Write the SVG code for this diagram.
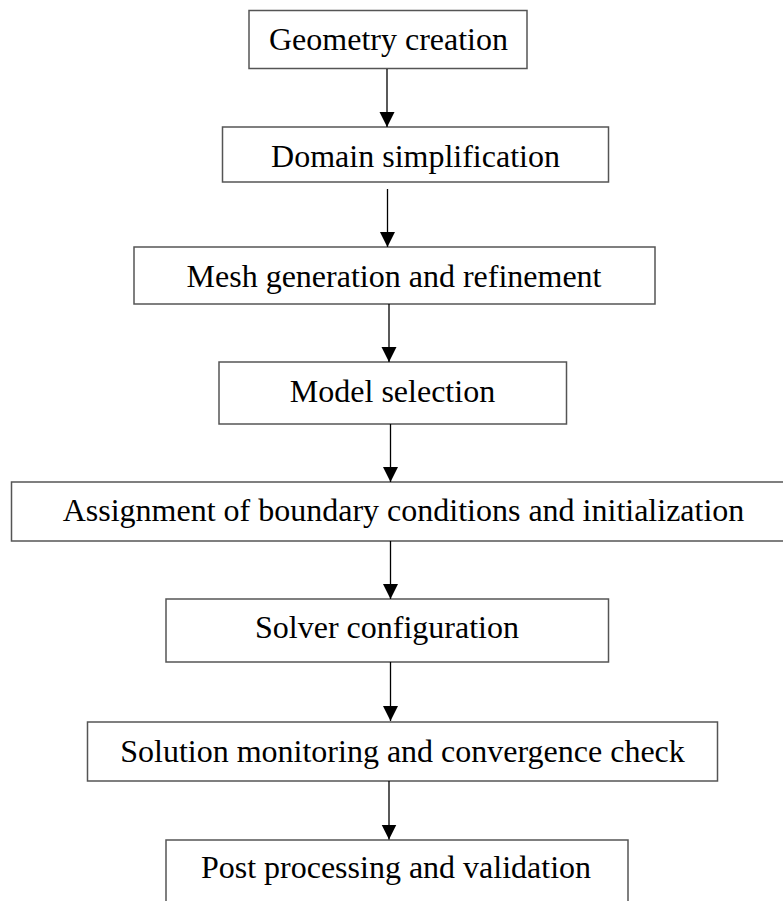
<svg xmlns="http://www.w3.org/2000/svg" width="783" height="901" viewBox="0 0 783 901">
<style>
.box{fill:#fff;stroke:#555;stroke-width:1.5}
.lbl{font-family:"Liberation Serif","Times New Roman",serif;font-size:32px;fill:#000;text-anchor:middle}
.edge{stroke:#000;stroke-width:1.3;fill:none}
</style>
<defs>
<marker id="ah" markerUnits="userSpaceOnUse" markerWidth="16" markerHeight="16" viewBox="0 0 16 16" refX="15" refY="8" orient="auto">
<path d="M0,0.5 L15,8 L0,15.5 Z" fill="#000"/>
</marker>
</defs>
<rect width="783" height="901" fill="#fff"/>
<g id="n1"><rect class="box" x="249" y="10.5" width="278" height="58"/><text class="lbl" x="388.5" y="49.5">Geometry creation</text></g>
<g id="n2"><rect class="box" x="222.5" y="127" width="386" height="55"/><text class="lbl" x="415.5" y="167">Domain simplification</text></g>
<g id="n3"><rect class="box" x="134" y="247" width="521" height="57"/><text class="lbl" x="394" y="287">Mesh generation and refinement</text></g>
<g id="n4"><rect class="box" x="219" y="362" width="347.5" height="62"/><text class="lbl" x="392.5" y="402">Model selection</text></g>
<g id="n5"><rect class="box" x="11.5" y="482" width="790" height="59"/><text class="lbl" x="403.5" y="521">Assignment of boundary conditions and initialization</text></g>
<g id="n6"><rect class="box" x="166" y="599" width="442.5" height="63"/><text class="lbl" x="387" y="638">Solver configuration</text></g>
<g id="n7"><rect class="box" x="87.5" y="722" width="630" height="59"/><text class="lbl" x="402.5" y="762">Solution monitoring and convergence check</text></g>
<g id="n8"><rect class="box" x="166" y="840" width="462" height="80"/><text class="lbl" x="396" y="878">Post processing and validation</text></g>
<g id="edges">
<line class="edge" x1="387" y1="69" x2="387" y2="127" marker-end="url(#ah)"/>
<line class="edge" x1="387.5" y1="189" x2="387.5" y2="247" marker-end="url(#ah)"/>
<line class="edge" x1="389" y1="304" x2="389" y2="362" marker-end="url(#ah)"/>
<line class="edge" x1="390.5" y1="424" x2="390.5" y2="482" marker-end="url(#ah)"/>
<line class="edge" x1="390.5" y1="541" x2="390.5" y2="599" marker-end="url(#ah)"/>
<line class="edge" x1="390.5" y1="662" x2="390.5" y2="721" marker-end="url(#ah)"/>
<line class="edge" x1="389" y1="781" x2="389" y2="839.5" marker-end="url(#ah)"/>
</g>
</svg>
